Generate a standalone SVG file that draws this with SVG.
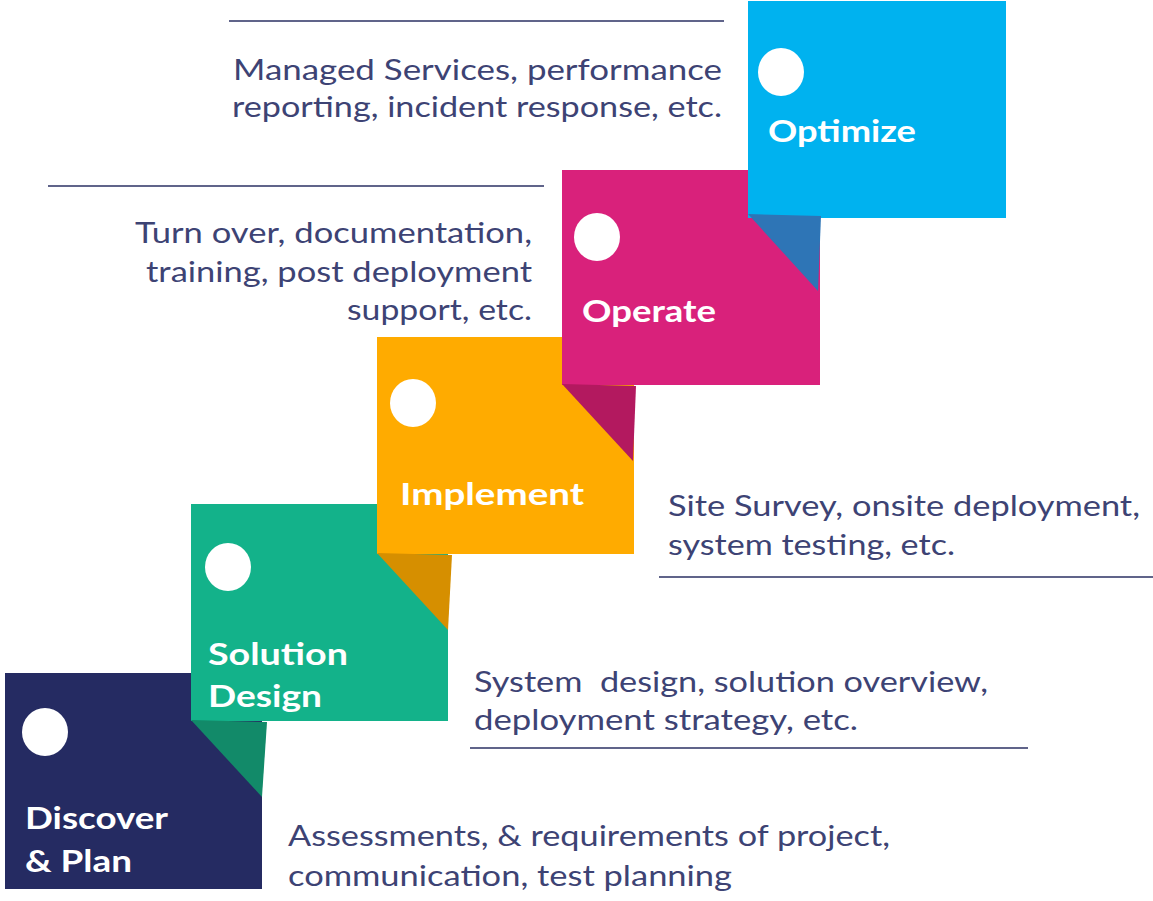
<svg xmlns="http://www.w3.org/2000/svg" width="1153" height="901" viewBox="0 0 1153 901">
<style>
.desc{font-family:Lato,"Open Sans","Liberation Sans",sans-serif;font-size:29px;fill:#3d4374;}
.title{font-family:Lato,"Open Sans","Liberation Sans",sans-serif;font-size:30px;font-weight:bold;fill:#ffffff;}
.rule{stroke:#2b3163;stroke-width:1.5;}
.dot{fill:#ffffff;}
</style>
<rect width="1153" height="901" fill="#ffffff"/>
<g id="connectors">
<line class="rule" x1="229" y1="21" x2="724" y2="21"/>
<line class="rule" x1="48" y1="186" x2="544" y2="186"/>
<line class="rule" x1="659" y1="577" x2="1153" y2="577"/>
<line class="rule" x1="470" y1="748" x2="1028" y2="748"/>
</g>
<g id="discover">
<rect x="5" y="673" width="257" height="216" fill="#252b62"/>
<ellipse class="dot" cx="45" cy="732" rx="23" ry="24"/>
<text class="title" x="25" y="829" textLength="143" lengthAdjust="spacingAndGlyphs">Discover</text>
<text class="title" x="25" y="872" textLength="107" lengthAdjust="spacingAndGlyphs">&amp; Plan</text>
<text class="desc" x="288" y="846" textLength="602" lengthAdjust="spacingAndGlyphs">Assessments, &amp; requirements of project,</text>
<text class="desc" x="288" y="886" textLength="444" lengthAdjust="spacingAndGlyphs">communication, test planning</text>
</g>
<g id="solution-design">
<rect x="191" y="504" width="257" height="217" fill="#13b28a"/>
<polygon points="191,720 267,722 262,797" fill="#128a69"/>
<ellipse class="dot" cx="228" cy="567" rx="23" ry="24"/>
<text class="title" x="208" y="665" textLength="140" lengthAdjust="spacingAndGlyphs">Solution</text>
<text class="title" x="208" y="707" textLength="114" lengthAdjust="spacingAndGlyphs">Design</text>
<text class="desc" x="474" y="692" textLength="514" lengthAdjust="spacingAndGlyphs" xml:space="preserve">System  design, solution overview,</text>
<text class="desc" x="474" y="730" textLength="384" lengthAdjust="spacingAndGlyphs">deployment strategy, etc.</text>
</g>
<g id="implement">
<rect x="377" y="337" width="257" height="217" fill="#ffab00"/>
<polygon points="377,553 452,555 448,630" fill="#d68f00"/>
<ellipse class="dot" cx="413" cy="403" rx="23" ry="24"/>
<text class="title" x="400" y="505" textLength="184" lengthAdjust="spacingAndGlyphs">Implement</text>
<text class="desc" x="668" y="516" textLength="472" lengthAdjust="spacingAndGlyphs">Site Survey, onsite deployment,</text>
<text class="desc" x="668" y="555" textLength="287" lengthAdjust="spacingAndGlyphs">system testing, etc.</text>
</g>
<g id="operate">
<rect x="562" y="170" width="258" height="215" fill="#d9217b"/>
<polygon points="562,384 636,386 633,461" fill="#b3195f"/>
<ellipse class="dot" cx="597" cy="237" rx="23" ry="24"/>
<text class="title" x="582" y="322" textLength="134" lengthAdjust="spacingAndGlyphs">Operate</text>
<text class="desc" x="532" y="243" text-anchor="end" textLength="397" lengthAdjust="spacingAndGlyphs">Turn over, documentation,</text>
<text class="desc" x="532" y="282" text-anchor="end" textLength="386" lengthAdjust="spacingAndGlyphs">training, post deployment</text>
<text class="desc" x="532" y="320" text-anchor="end" textLength="185" lengthAdjust="spacingAndGlyphs">support, etc.</text>
</g>
<g id="optimize">
<rect x="748" y="1" width="258" height="217" fill="#00b2ef"/>
<polygon points="748,214 821,216 818,291" fill="#2e75b6"/>
<ellipse class="dot" cx="781" cy="72" rx="23" ry="24"/>
<text class="title" x="768" y="142" textLength="148" lengthAdjust="spacingAndGlyphs">Optimize</text>
<text class="desc" x="722" y="80" text-anchor="end" textLength="489" lengthAdjust="spacingAndGlyphs">Managed Services, performance</text>
<text class="desc" x="722" y="117" text-anchor="end" textLength="490" lengthAdjust="spacingAndGlyphs">reporting, incident response, etc.</text>
</g>
</svg>
